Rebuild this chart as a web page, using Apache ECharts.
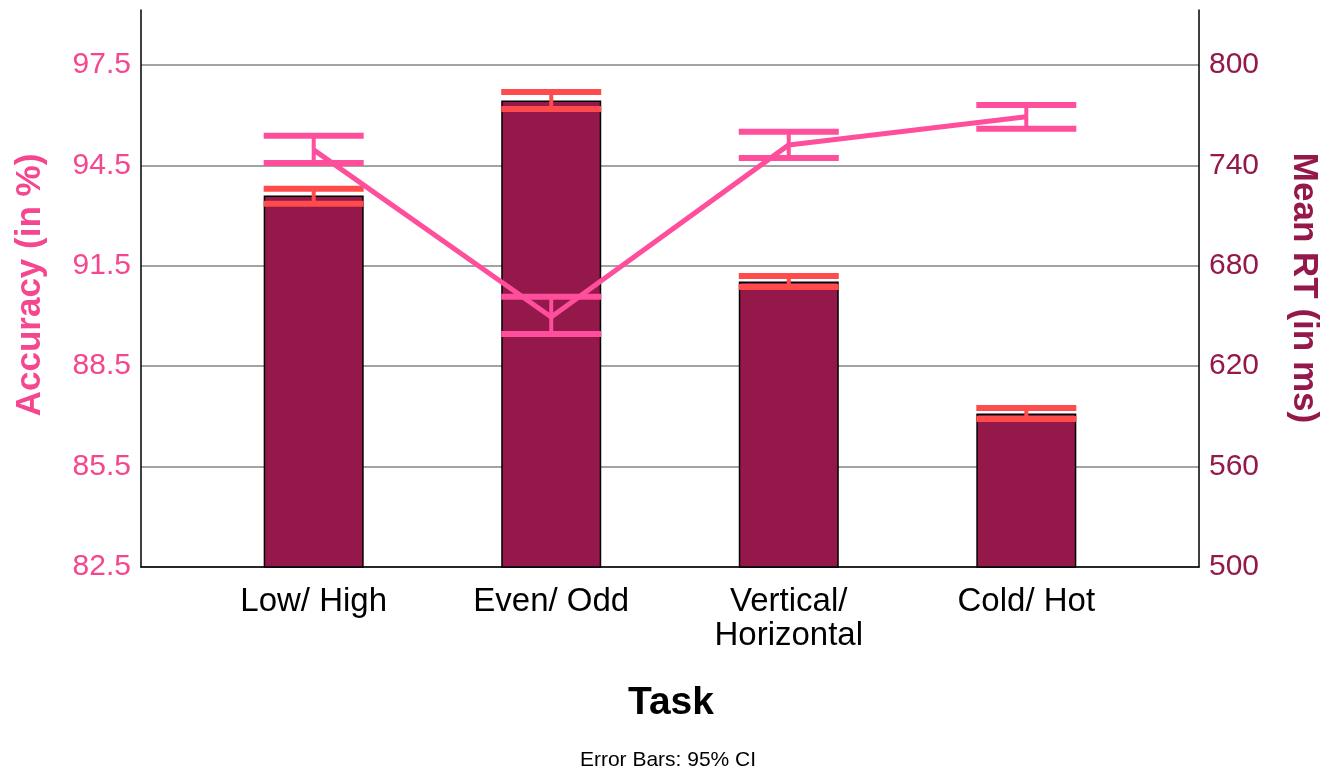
<!DOCTYPE html>
<html>
<head>
<meta charset="utf-8">
<title>Accuracy and Mean RT by Task</title>
<script src="https://cdn.jsdelivr.net/npm/echarts@6/dist/echarts.min.js"></script>
<style>
  html, body { margin: 0; padding: 0; background: #fff; }
  #chart { width: 1336px; height: 776px; }
</style>
</head>
<body>
<div id="chart"></div>
<script>
// categories (x positions 0..3)
var categories = ['Low/ High', 'Even/ Odd', 'Vertical/\nHorizontal', 'Cold/ Hot'];

// Accuracy (in %), left axis - line with 95% CI
var accMean = [94.96, 89.97, 95.11, 95.95];
var accLow = [94.57, 89.46, 94.72, 95.59];
var accHigh = [95.38, 90.57, 95.50, 96.30];

// Mean RT (in ms), right axis - bars with 95% CI
var rtMean = [722.0, 778.8, 670.6, 591.7];
var rtLow = [717.1, 773.7, 667.3, 588.4];
var rtHigh = [726.0, 783.9, 673.9, 595.0];

// tick labels
var accTicks = [82.5, 85.5, 88.5, 91.5, 94.5, 97.5];
var rtTicks = [500, 560, 620, 680, 740, 800];

var PINK = '#FF4E9B';
var PINK_TEXT = '#F5478F';
var MAROON = '#94194A';
var RED = '#FF4B4B';
var FONT = '"Liberation Sans", Arial, sans-serif';

function pairs(vals) {
	return vals.map(function(v, i) { return [i, v]; });
}
function ranges(lo, hi) {
	return lo.map(function(v, i) { return [i, v, hi[i]]; });
}

// draws an error bar: stem + two caps
function errorBar(color, capW, stemW) {
	return function(params, api) {
		var x = api.value(0);
		var pLo = api.coord([x, api.value(1)]);
		var pHi = api.coord([x, api.value(2)]);
		var half = 50;
		return {
			type: 'group',
			children: [{
				type: 'line',
				shape: { x1: pLo[0], y1: pLo[1], x2: pHi[0], y2: pHi[1] },
				style: { stroke: color, lineWidth: stemW }
			}, {
				type: 'line',
				shape: { x1: pLo[0] - half, y1: pLo[1], x2: pLo[0] + half, y2: pLo[1] },
				style: { stroke: color, lineWidth: capW }
			}, {
				type: 'line',
				shape: { x1: pHi[0] - half, y1: pHi[1], x2: pHi[0] + half, y2: pHi[1] },
				style: { stroke: color, lineWidth: capW }
			}]
		};
	};
}

var myChart = echarts.init(document.getElementById('chart'));
var option = {
	backgroundColor: '#fff',
	animation: false,
	grid: { left: 141, right: 137, top: 10, bottom: 209 },
	xAxis: {
		type: 'value',
		min: -0.727,
		max: 3.727,
		axisLine: { show: true, onZero: false, lineStyle: { color: '#000', width: 1.5 } },
		axisTick: { show: false },
		splitLine: { show: false },
		axisLabel: {
			customValues: [0, 1, 2, 3],
			formatter: function(v) { return categories[Math.round(v)]; },
			color: '#000',
			fontFamily: FONT,
			fontSize: 33,
			lineHeight: 34,
			margin: 18
		}
	},
	yAxis: [{ // Accuracy
		type: 'value',
		position: 'left',
		min: 82.5,
		max: 99.14,
		axisLine: { show: true, onZero: false, lineStyle: { color: '#000', width: 1.5 } },
		axisTick: { show: false, customValues: accTicks },
		splitLine: { show: true, lineStyle: { color: '#A3A3A3', width: 2 } },
		axisLabel: {
			customValues: accTicks,
			formatter: function(v) { return v.toFixed(1); },
			color: PINK_TEXT,
			fontFamily: FONT,
			fontSize: 30,
			margin: 10
		}
	}, { // Mean RT
		type: 'value',
		position: 'right',
		min: 500,
		max: 832.9,
		axisLine: { show: true, onZero: false, lineStyle: { color: '#000', width: 1.5 } },
		axisTick: { show: false, customValues: rtTicks },
		splitLine: { show: false },
		axisLabel: {
			customValues: rtTicks,
			color: MAROON,
			fontFamily: FONT,
			fontSize: 30,
			margin: 10
		}
	}],
	series: [{
		name: 'Mean RT',
		type: 'bar',
		yAxisIndex: 1,
		barWidth: 100,
		itemStyle: { color: MAROON, borderColor: '#000', borderWidth: 1.5 },
		data: pairs(rtMean),
		z: 2
	}, {
		name: 'RT CI',
		type: 'custom',
		yAxisIndex: 1,
		renderItem: errorBar(RED, 6, 4),
		encode: { x: 0, y: [1, 2] },
		data: ranges(rtLow, rtHigh),
		z: 3
	}, {
		name: 'Accuracy',
		type: 'line',
		yAxisIndex: 0,
		symbol: 'none',
		lineStyle: { color: PINK, width: 5 },
		data: pairs(accMean),
		z: 4
	}, {
		name: 'Accuracy CI',
		type: 'custom',
		yAxisIndex: 0,
		renderItem: errorBar(PINK, 6, 4),
		encode: { x: 0, y: [1, 2] },
		data: ranges(accLow, accHigh),
		z: 5
	}],
	graphic: [{
		type: 'text',
		x: 30, y: 285, rotation: Math.PI / 2,
		style: {
			text: 'Accuracy (in %)', fill: PINK_TEXT, font: 'bold 35px ' + FONT,
			align: 'center', verticalAlign: 'middle'
		}
	}, {
		type: 'text',
		x: 1304, y: 288, rotation: -Math.PI / 2,
		style: {
			text: 'Mean RT (in ms)', fill: MAROON, font: 'bold 35px ' + FONT,
			align: 'center', verticalAlign: 'middle'
		}
	}, {
		type: 'text',
		x: 671, y: 703,
		style: {
			text: 'Task', fill: '#000', font: 'bold 39px ' + FONT,
			align: 'center', verticalAlign: 'middle'
		}
	}, {
		type: 'text',
		x: 668, y: 760,
		style: {
			text: 'Error Bars: 95% CI', fill: '#000', font: '21px ' + FONT,
			align: 'center', verticalAlign: 'middle'
		}
	}]
};
myChart.setOption(option);
</script>
</body>
</html>
